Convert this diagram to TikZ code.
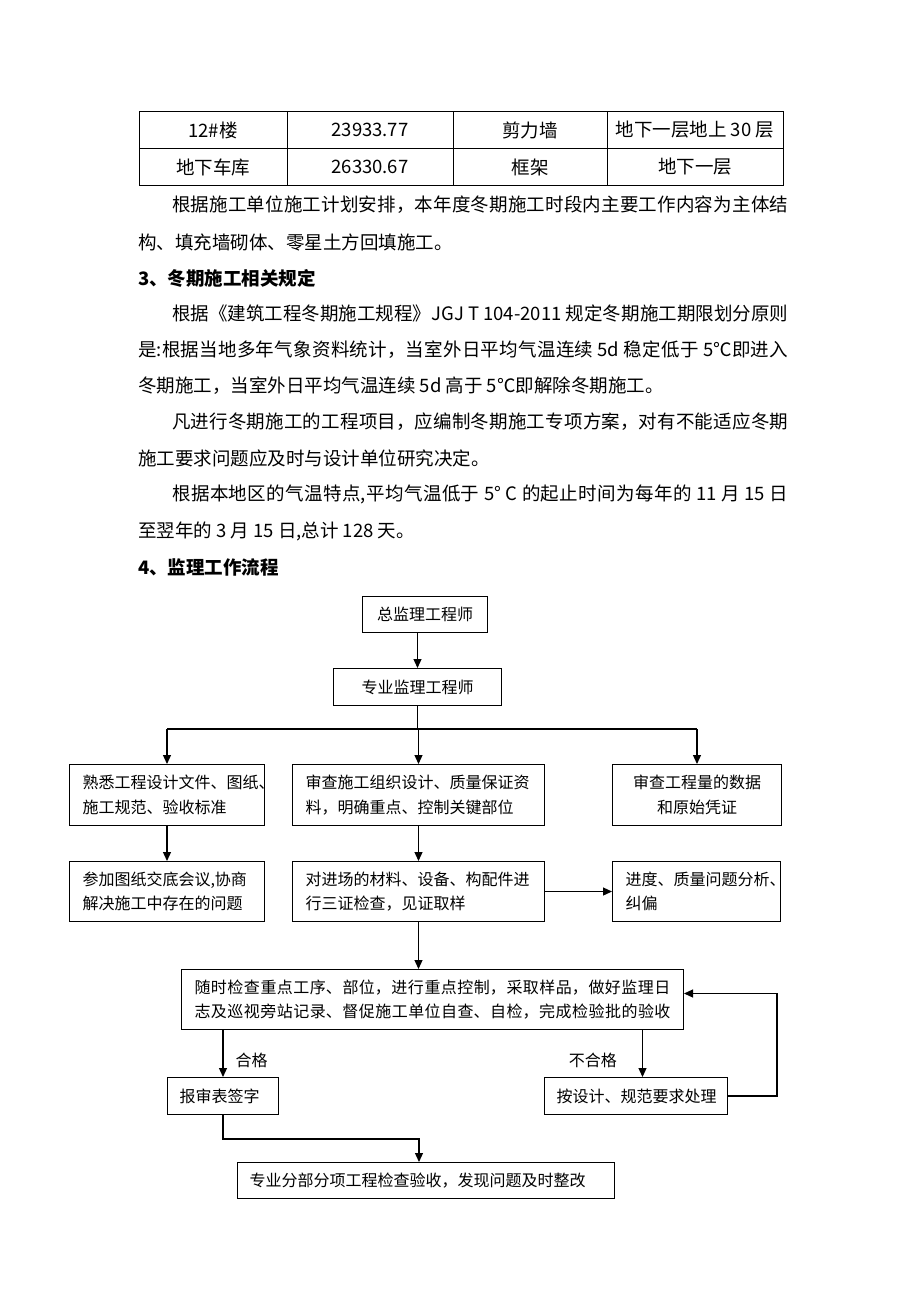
\documentclass[tikz,border=0pt]{standalone}
\usepackage{fontspec}
\setmainfont{Noto Sans CJK SC}
\usetikzlibrary{arrows.meta}

\newcommand{\bodyfont}{\fontsize{18.5pt}{36pt}\selectfont}
\newcommand{\flowfont}{\fontsize{16pt}{24.5pt}\selectfont}

\tikzset{
  spread/.style={align=justify,
    execute at begin node={\XeTeXlinebreaklocale "zh"\XeTeXlinebreakskip=0pt plus 2pt minus .5pt\relax\parindent=0pt\parfillskip=0pt\relax}},
  bodyline/.style={anchor=west, inner sep=0pt, font=\bodyfont},
  fullline/.style={bodyline, text width=#1, spread},
  headline/.style={bodyline, font=\bodyfont\bfseries},
  tablecell/.style={inner sep=0pt, font=\bodyfont},
  flowbox/.style={draw, line width=1pt, anchor=north west, inner ysep=0pt, inner xsep=0pt, align=center, font=\flowfont},
  textbox/.style={flowbox, align=left, inner xsep=13pt},
  link/.style={line width=1.2pt},
  arr/.style={link, -{Triangle[length=9pt,width=8pt]}},
  tag/.style={inner sep=0pt, font=\flowfont}
}

\begin{document}
\begin{tikzpicture}[x=1pt,y=-1pt]
    % Draw page background
    \fill[white] (0,0) rectangle (920,1302);
    % Draw table
    \draw[line width=0.8pt] (139,111) rectangle (783,185);
    \draw[line width=0.8pt] (139,148) -- (783,148);
    \foreach \x in {287,453,607}
        \draw[line width=0.8pt] (\x,111) -- (\x,185);
    \node[tablecell] (r1c1) at (213,130) {12\#楼};
    \node[tablecell] (r1c2) at (370,130) {23933.77};
    \node[tablecell] (r1c3) at (530,130) {剪力墙};
    \node[tablecell] (r1c4) at (695,130) {地下一层地上 30 层};
    \node[tablecell] (r2c1) at (213,167) {地下车库};
    \node[tablecell] (r2c2) at (370,167) {26330.67};
    \node[tablecell] (r2c3) at (530,167) {框架};
    \node[tablecell] (r2c4) at (695,167) {地下一层};
    % Draw text lines
    \node[fullline=616pt] (p1) at (172,205) {根据施工单位施工计划安排，本年度冬期施工时段内主要工作内容为主体结};
    \node[bodyline] (p2) at (138,242) {构、填充墙砌体、零星土方回填施工。};
    \node[headline] (h3) at (138,278) {3、冬期施工相关规定};
    \node[fullline=616pt] (p3) at (172,313) {根据《建筑工程冬期施工规程》JGJ T 104-2011 规定冬期施工期限划分原则};
    \node[fullline=650pt] (p4) at (138,350) {是:根据当地多年气象资料统计，当室外日平均气温连续 5d 稳定低于 5℃即进入};
    \node[bodyline] (p5) at (138,386) {冬期施工，当室外日平均气温连续 5d 高于 5℃即解除冬期施工。};
    \node[fullline=616pt] (p6) at (172,422) {凡进行冬期施工的工程项目，应编制冬期施工专项方案，对有不能适应冬期};
    \node[bodyline] (p7) at (138,458) {施工要求问题应及时与设计单位研究决定。};
    \node[fullline=616pt] (p8) at (172,494) {根据本地区的气温特点,平均气温低于 5° C 的起止时间为每年的 11 月 15 日};
    \node[bodyline] (p9) at (138,531) {至翌年的 3 月 15 日,总计 128 天。};
    \node[headline] (h4) at (138,567) {4、监理工作流程};
    % Draw flow chart boxes
    \node[flowbox, minimum width=125pt, minimum height=36pt] (chief) at (362,596) {总监理工程师};
    \node[flowbox, minimum width=168pt, minimum height=37pt] (major) at (333,668) {专业监理工程师};
    \node[textbox, text width=169pt, minimum height=61pt] (study) at (69,764) {\mbox{熟悉工程设计文件、图纸、}\\\mbox{施工规范、验收标准}};
    \node[textbox, text width=226pt, minimum height=61pt] (review) at (292,764) {\mbox{审查施工组织设计、质量保证资}\\\mbox{料，明确重点、控制关键部位}};
    \node[textbox, text width=143pt, minimum height=61pt, align=center] (quantity) at (612,764) {\mbox{审查工程量的数据}\\\mbox{和原始凭证}};
    \node[textbox, text width=169pt, minimum height=60pt] (meeting) at (69,861) {\mbox{参加图纸交底会议,协商}\\\mbox{解决施工中存在的问题}};
    \node[textbox, text width=226pt, minimum height=60pt] (material) at (292,861) {\mbox{对进场的材料、设备、构配件进}\\\mbox{行三证检查，见证取样}};
    \node[textbox, text width=142pt, minimum height=60pt] (analysis) at (612,861) {\mbox{进度、质量问题分析、}\\\mbox{纠偏}};
    \node[textbox, text width=476pt, minimum height=60pt, spread] (inspect) at (181,969) {随时检查重点工序、部位，进行重点控制，采取样品，做好监理日\par 志及巡视旁站记录、督促施工单位自查、自检，完成检验批的验收};
    \node[textbox, inner xsep=12pt, text width=87pt, minimum height=37pt] (sign) at (167,1077) {\mbox{报审表签字}};
    \node[textbox, inner xsep=12pt, text width=159pt, minimum height=37pt] (handle) at (544,1077) {\mbox{按设计、规范要求处理}};
    \node[textbox, inner xsep=12pt, text width=353pt, minimum height=36pt] (final) at (237,1162) {\mbox{专业分部分项工程检查验收，发现问题及时整改}};
    % Draw connectors
    \draw[arr] (chief.south -| major.north) -- (major.north);
    \draw[link] (major.south) -- ++(0,23) coordinate (fork);
    \draw[link] (fork -| study.north) -- (fork -| quantity.north);
    \draw[arr] (fork -| study.north) -- (study.north);
    \draw[arr] (fork -| review.north) -- (review.north);
    \draw[arr] (fork -| quantity.north) -- (quantity.north);
    \draw[arr] (study) -- (meeting);
    \draw[arr] (review) -- (material);
    \draw[arr] (material) -- (analysis);
    \draw[arr] (material.south) -- (material.south |- inspect.north);
    \draw[arr] (inspect.south -| sign.north) -- (sign.north) node[tag, pos=0.65, right=12pt] {合格};
    \coordinate (rejectx) at ([xshift=6.5pt]handle.north);
    \draw[arr] (rejectx |- inspect.south) -- (rejectx) node[tag, pos=0.65, left=25pt] {不合格};
    \draw[arr] (handle.east) -- ++(49,0) |- ([yshift=6pt]inspect.east);
    \draw[arr] (sign.south) -- ++(0,24) -| ([xshift=-7pt]final.north);
\end{tikzpicture}
\end{document}
